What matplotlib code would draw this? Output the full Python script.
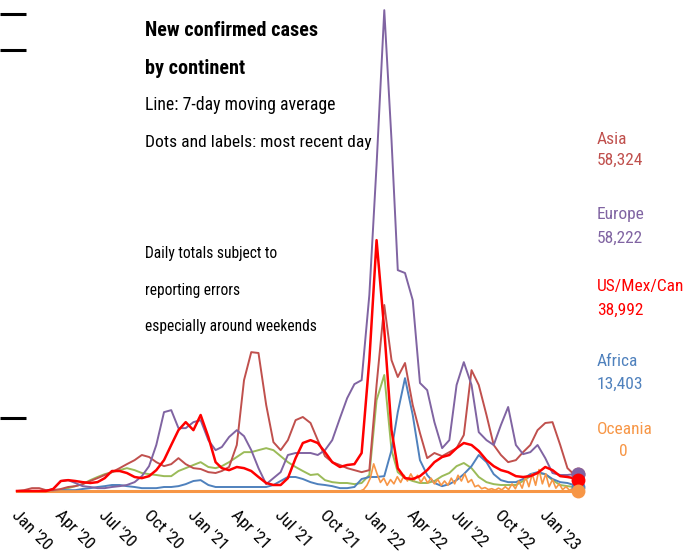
import numpy as np
import pandas as pd
import matplotlib
matplotlib.use("Agg")
import matplotlib.pyplot as plt
import matplotlib.dates as mdates
import matplotlib.transforms as mtransforms

plt.rcParams['font.family'] = ['Roboto Condensed', 'DejaVu Sans']

# semi-monthly sample dates, Jan 2020 - Mar 2023
dates = []
for yr in [2020, 2021, 2022]:
    for mo in range(1, 13):
        dates += [pd.Timestamp(yr, mo, 1), pd.Timestamp(yr, mo, 16)]
dates += [pd.Timestamp(2023, 1, 1), pd.Timestamp(2023, 1, 16), pd.Timestamp(2023, 2, 1),
          pd.Timestamp(2023, 2, 16), pd.Timestamp(2023, 3, 1), pd.Timestamp(2023, 3, 10)]

# 7-day average of new cases, thousands
europe = [0, 0, 0, 0, 0, 7, 35, 38, 28, 17, 14, 10, 10, 14, 17, 21, 31, 52, 87, 161, 276, 283, 220, 220,
          241, 248, 178, 143, 154, 189, 213, 192, 143, 80, 24, 45, 66, 126, 133, 133, 133, 126, 143, 178, 255, 325, 374, 388,
          686, 1141, 1683, 1228, 773, 763, 668, 378, 353, 241, 150, 178, 371, 451, 371, 206, 178, 161, 231, 294, 161, 129, 136, 161,
          115, 63, 56, 56, 59, 58.2]
us_mex_can = [0, 0, 0, 0, 0, 7, 35, 38, 35, 31, 28, 31, 45, 70, 70, 63, 49, 45, 52, 73, 108, 161, 213, 241,
              213, 266, 189, 101, 80, 73, 84, 80, 70, 49, 28, 21, 21, 45, 115, 168, 178, 168, 136, 101, 84, 91, 94, 133,
              458, 878, 563, 213, 80, 45, 42, 52, 73, 101, 119, 126, 150, 168, 161, 140, 108, 87, 73, 66, 52, 49, 52, 63,
              84, 73, 52, 49, 45, 39.0]
asia = [0, 3, 10, 10, 3, 3, 7, 14, 17, 24, 35, 45, 56, 66, 80, 94, 108, 126, 119, 101, 87, 94, 115, 94,
        80, 77, 66, 63, 70, 84, 161, 388, 486, 483, 301, 171, 143, 178, 248, 259, 238, 178, 122, 101, 91, 80, 73, 66,
        73, 371, 651, 458, 399, 448, 301, 203, 115, 133, 122, 136, 150, 196, 423, 371, 266, 161, 126, 101, 108, 136, 161, 213,
        238, 241, 161, 80, 59, 58.3]
south_america = [0, 0, 0, 0, 0, 0, 3, 10, 17, 24, 38, 49, 59, 66, 73, 80, 73, 63, 59, 56, 52, 52, 70, 80,
                 91, 101, 84, 80, 87, 101, 119, 136, 136, 143, 150, 143, 122, 101, 84, 70, 56, 59, 38, 31, 28, 28, 24, 28,
                 56, 318, 406, 143, 66, 45, 35, 28, 28, 35, 52, 63, 87, 98, 80, 49, 31, 24, 21, 21, 21, 35, 52, 63,
                 59, 38, 21, 17, 14, 14]
africa = [0, 0, 0, 0, 0, 0, 3, 3, 3, 7, 10, 14, 17, 21, 21, 17, 14, 10, 10, 10, 14, 14, 17, 24,
          35, 38, 21, 14, 14, 14, 14, 14, 14, 14, 14, 21, 35, 49, 49, 42, 31, 24, 21, 17, 10, 10, 14, 42,
          49, 49, 52, 143, 276, 395, 266, 108, 56, 28, 17, 24, 38, 59, 87, 126, 101, 59, 38, 31, 31, 42, 59, 66,
          59, 42, 31, 28, 21, 13.4]

# Oceania is spiky (weekly reporting), so read it week by week
oceania_dates = [pd.Timestamp(2020, 1, 1)] + list(pd.date_range('2021-12-13', '2023-03-06', freq='7D')) + \
                [pd.Timestamp(2023, 3, 10)]
oceania = [0, 0,
           5, 20, 45, 95, 60, 30, 45, 20, 40, 25, 50, 30, 55, 35, 60, 38, 55, 30, 50, 28, 45, 25, 40, 20,
           35, 20, 45, 25, 55, 35, 60, 30, 40, 15, 20, 8, 12, 5, 8, 3, 10, 4, 15, 5, 25, 8, 35, 10,
           50, 15, 60, 20, 75, 25, 60, 15, 40, 10, 25, 5, 15, 3, 8, 2, 0]

labels = ['Asia', 'Europe', 'US/Mex/Can', 'Africa', 'Oceania']
latest = ['58,324', '58,222', '38,992', '13,403', '0']

c_asia = '#c0504d'
c_europe = '#8064a2'
c_us = '#ff0000'
c_africa = '#4f81bd'
c_oceania = '#f79646'
c_samerica = '#9bbb59'

W, H = 687, 557
fig = plt.figure(figsize=(W / 100, H / 100), dpi=100)
ax = fig.add_axes([0, (H - 495) / H, 1, 495 / H])

# zero days of Oceania make a solid orange floor under everything
ax.plot([dates[0], dates[-1]], [0, 0], color=c_oceania, lw=2.2, zorder=1)
ax.plot(dates, south_america, color=c_samerica, lw=1.4)
ax.plot(dates, africa, color=c_africa, lw=1.4)
ax.plot(oceania_dates, oceania, color=c_oceania, lw=1.2)
ax.plot(dates, asia, color=c_asia, lw=1.4)
ax.plot(dates, europe, color=c_europe, lw=1.4)
ax.plot(dates, us_mex_can, color=c_us, lw=1.8)

# end dots for most recent day
for d, vals, col in [(dates, africa, c_africa), (dates, asia, c_asia), (dates, europe, c_europe),
                     (dates, us_mex_can, c_us), (oceania_dates, oceania, c_oceania)]:
    ax.plot(d[-1], vals[-1], 'o', color=col, ms=10, mec='none', clip_on=False, zorder=5)

px_day = 0.482
start = mdates.date2num(pd.Timestamp(2020, 1, 1))
ax.set_xlim(start - 17 / px_day, start + (W - 17) / px_day)
ax.set_ylim(-14, 491 * 3.5)

ticks = pd.date_range('2020-01-01', '2023-01-01', freq='QS')
ax.set_xticks(ticks)
ax.set_xticklabels([d.strftime("%b '%y") for d in ticks], rotation=-45, ha='left', va='top',
                   rotation_mode='anchor', fontsize=12.5)
ax.tick_params(axis='x', length=0, pad=9)
shift = mtransforms.ScaledTranslation(2 / 100, 0, fig.dpi_scale_trans)
for lab in ax.get_xticklabels():
    lab.set_transform(lab.get_transform() + shift)

ax.set_yticks([255, 1544, 1670])
ax.set_yticklabels([])
ax.tick_params(axis='y', direction='in', length=18.7, width=2.2, color='black')

for s in ax.spines.values():
    s.set_visible(False)
ax.patch.set_alpha(0)

def ty(y):
    return 1 - y / H

fig.text(145 / W, ty(31), 'New confirmed cases', fontsize=14.5, fontweight='bold', va='center')
fig.text(145 / W, ty(69), 'by continent', fontsize=14.5, fontweight='bold', va='center')
fig.text(145 / W, ty(105), 'Line: 7-day moving average', fontsize=12.8, va='center')
fig.text(145 / W, ty(143), 'Dots and labels: most recent day', fontsize=12.6, va='center')
fig.text(145 / W, ty(253), 'Daily totals subject to', fontsize=11.2, va='center')
fig.text(145 / W, ty(291), 'reporting errors', fontsize=11.2, va='center')
fig.text(145 / W, ty(327), 'especially around weekends', fontsize=11.2, va='center')

label_y = [(139, 160), (215, 238), (287, 310), (361, 384), (430, 452)]
label_c = [c_asia, c_europe, c_us, c_africa, c_oceania]
for name, num, (y1, y2), col in zip(labels, latest, label_y, label_c):
    fig.text(597 / W, ty(y1), name, fontsize=12.5, color=col, va='center')
    if name == 'Oceania':
        fig.text(623 / W, ty(y2), num, fontsize=12.5, color=col, va='center', ha='center')
    else:
        fig.text(597 / W, ty(y2), num, fontsize=12.5, color=col, va='center')

fig.savefig('out.png', dpi=100)
